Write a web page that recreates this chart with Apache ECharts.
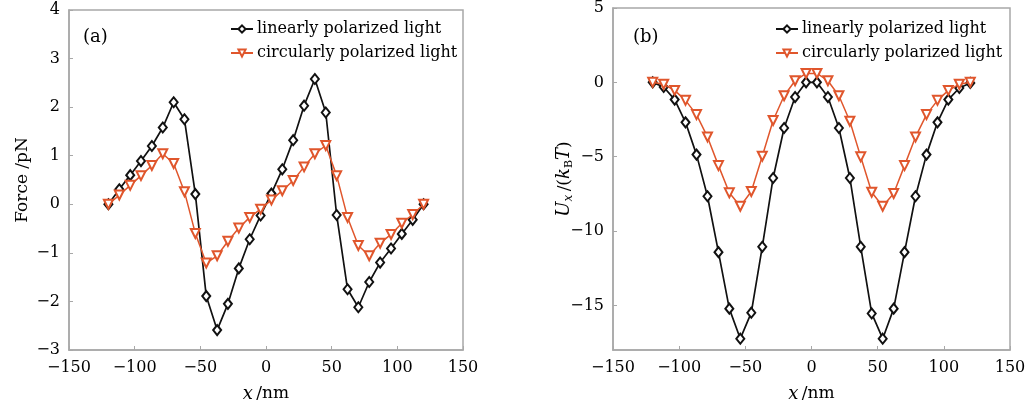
<!DOCTYPE html>
<html>
<head>
<meta charset="utf-8">
<script src="https://cdn.jsdelivr.net/npm/echarts@6/dist/echarts.min.js"></script>
<style>html,body{margin:0;padding:0;background:#fff}#c{width:1027px;height:404px}</style>
</head>
<body>
<div id="c"></div>
<script>
const xPos = [-120, -111.7, -103.4, -95.2, -86.9, -78.6, -70.3, -62.1, -53.8, -45.5, -37.2, -29.0, -20.7, -12.4, -4.1, 4.1, 12.4, 20.7, 29.0, 37.2, 45.5, 53.8, 62.1, 70.3, 78.6, 86.9, 95.2, 103.4, 111.7, 120];
const forceLinear = [0, 0.31, 0.60, 0.89, 1.20, 1.58, 2.10, 1.75, 0.21, -1.89, -2.59, -2.05, -1.32, -0.72, -0.23, 0.22, 0.72, 1.32, 2.03, 2.58, 1.89, -0.22, -1.75, -2.12, -1.60, -1.20, -0.91, -0.61, -0.32, 0];
const forceCircular = [0, 0.19, 0.39, 0.59, 0.80, 1.04, 0.84, 0.26, -0.60, -1.21, -1.06, -0.76, -0.49, -0.27, -0.10, 0.09, 0.28, 0.49, 0.77, 1.04, 1.21, 0.59, -0.27, -0.85, -1.06, -0.80, -0.62, -0.39, -0.21, 0];
const potLinear = [0, -0.31, -1.16, -2.69, -4.86, -7.66, -11.42, -15.22, -17.24, -15.49, -11.06, -6.43, -3.07, -0.99, 0, 0, -0.99, -3.07, -6.43, -11.06, -15.54, -17.24, -15.22, -11.42, -7.66, -4.86, -2.69, -1.16, -0.38, -0.04];
const potCircular = [0, -0.13, -0.54, -1.21, -2.17, -3.67, -5.60, -7.43, -8.33, -7.34, -4.97, -2.57, -0.90, 0.11, 0.60, 0.60, 0.11, -0.90, -2.62, -5.01, -7.39, -8.33, -7.48, -5.60, -3.67, -2.17, -1.21, -0.54, -0.13, 0];
const xTicks = [-150, -100, -50, 0, 50, 100, 150];
const forceTicks = [-3, -2, -1, 0, 1, 2, 3, 4];
const potTicks = [-15, -10, -5, 0, 5];
const seriesNames = ['linearly polarized light', 'circularly polarized light'];

const FONT = 'DejaVu Serif';
const RED = '#E0562C';
const AXC = '#a8a8a8';
const TXT = '#000';
const pair = (xs, ys) => xs.map((x, i) => [x, ys[i]]);
const fmt = v => String(v).replace('-', '\u2212');

function xAxis(gi) {
  return {
    type: 'value', gridIndex: gi, min: -150, max: 150,
    axisLabel: { customValues: xTicks, formatter: fmt, color: TXT, fontFamily: FONT, fontSize: 16, margin: 10 },
    axisTick: { customValues: xTicks, inside: true, length: 4, lineStyle: { color: AXC } },
    axisLine: { onZero: false, lineStyle: { color: AXC, width: 1.5 } },
    splitLine: { show: false },
    name: '{i|x} {n|/nm}', nameLocation: 'middle', nameGap: 35, nameMoveOverlap: false,
    nameTextStyle: { rich: { i: { fontFamily: FONT, fontStyle: 'italic', fontSize: 18, color: TXT }, n: { fontFamily: FONT, fontSize: 17, color: TXT } } }
  };
}
function yAxis(gi, min, max, ticks, name, gap, rich) {
  return {
    type: 'value', gridIndex: gi, min: min, max: max,
    axisLabel: { customValues: ticks, formatter: fmt, color: TXT, fontFamily: FONT, fontSize: 16, margin: 9 },
    axisTick: { customValues: ticks, inside: true, length: 4, lineStyle: { color: AXC } },
    axisLine: { onZero: false, lineStyle: { color: AXC, width: 1.5 } },
    splitLine: { show: false },
    name: name, nameLocation: 'middle', nameGap: gap, nameRotate: 90, nameMoveOverlap: false,
    nameTextStyle: rich
  };
}
function lin(name, gi, data) {
  return { name: name, type: 'line', xAxisIndex: gi, yAxisIndex: gi, data: data,
    symbol: 'emptyDiamond', symbolSize: [8, 10], color: '#111',
    lineStyle: { width: 1.7, color: '#111' }, itemStyle: { color: '#111', borderWidth: 1.6 }, z: 3 };
}
function circ(name, gi, data) {
  return { name: name, type: 'line', xAxisIndex: gi, yAxisIndex: gi, data: data,
    symbol: 'emptyTriangle', symbolRotate: 180, symbolSize: 9, color: RED,
    lineStyle: { width: 1.5, color: RED }, itemStyle: { color: RED, borderWidth: 1.4 }, z: 4 };
}
function legend(left) {
  return { data: seriesNames, orient: 'vertical', left: left, top: 21, padding: 0, itemWidth: 22, itemHeight: 9, itemGap: 8,
    textStyle: { fontFamily: FONT, fontSize: 16, color: TXT, padding: [0, 0, 0, -1] }, selectedMode: false };
}

const chart = echarts.init(document.getElementById('c'), null, { renderer: 'canvas' });
chart.setOption({
  animation: false,
  backgroundColor: '#fff',
  grid: [
    { left: 69, top: 10, width: 394, height: 340, show: true, borderColor: AXC, borderWidth: 1.5, containLabel: false, outerBoundsMode: 'none' },
    { left: 613, top: 8, width: 397, height: 342, show: true, borderColor: AXC, borderWidth: 1.5, containLabel: false, outerBoundsMode: 'none' }
  ],
  title: [
    { text: '(a)', left: 83, top: 28, padding: 0, textStyle: { fontFamily: FONT, fontWeight: 'normal', fontSize: 18, color: TXT } },
    { text: '(b)', left: 633, top: 28, padding: 0, textStyle: { fontFamily: FONT, fontWeight: 'normal', fontSize: 18, color: TXT } }
  ],
  legend: [legend(230), legend(775)],
  xAxis: [xAxis(0), xAxis(1)],
  yAxis: [
    yAxis(0, -3, 4, forceTicks, 'Force /pN', 38, { fontFamily: FONT, fontSize: 17, color: TXT }),
    yAxis(1, -18, 5, potTicks, '{i|U}{s|x} {n|/(}{i|k}{s2|B}{i|T}{n|)}', 38, {
      rich: {
        i: { fontFamily: FONT, fontStyle: 'italic', fontSize: 18, color: TXT },
        n: { fontFamily: FONT, fontSize: 17, color: TXT },
        s: { fontFamily: FONT, fontStyle: 'italic', fontSize: 12, color: TXT, verticalAlign: 'bottom', padding: [9, 0, 0, 0] },
        s2: { fontFamily: FONT, fontSize: 11, color: TXT, verticalAlign: 'bottom', padding: [9, 0, 0, 0] }
      }
    })
  ],
  series: [
    lin(seriesNames[0], 0, pair(xPos, forceLinear)),
    circ(seriesNames[1], 0, pair(xPos, forceCircular)),
    lin(seriesNames[0], 1, pair(xPos, potLinear)),
    circ(seriesNames[1], 1, pair(xPos, potCircular))
  ]
});
</script>
</body>
</html>
